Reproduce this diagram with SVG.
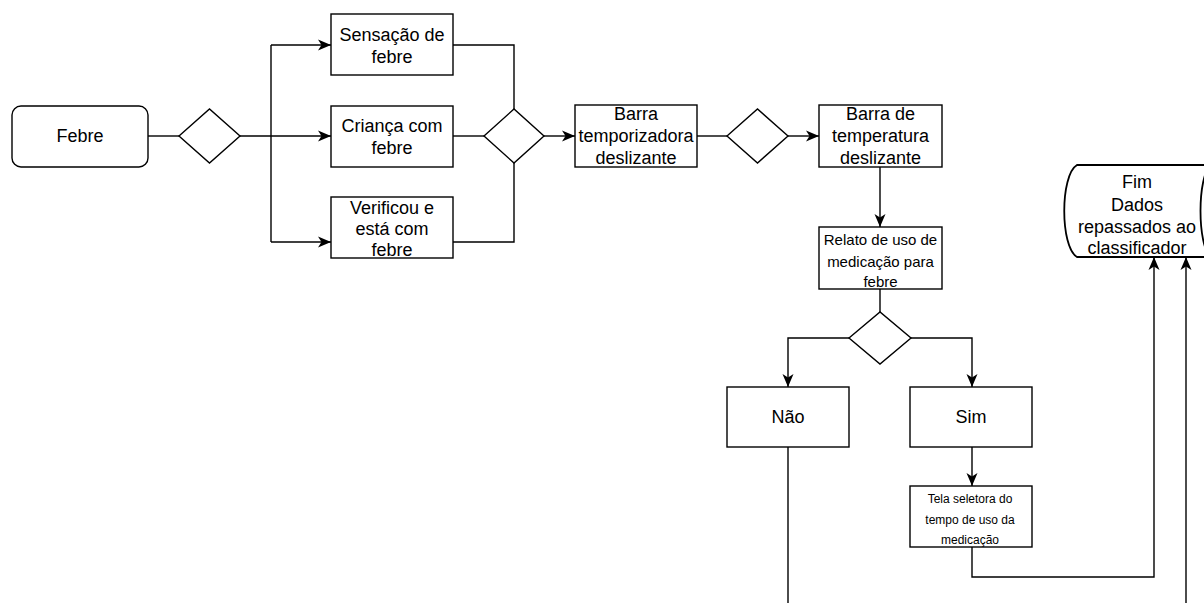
<svg xmlns="http://www.w3.org/2000/svg" width="1204" height="603" viewBox="0 0 1204 603">
  <defs>
    <marker id="arrow" markerUnits="userSpaceOnUse" markerWidth="14" markerHeight="14" viewBox="0 0 14 14" refX="13" refY="7" orient="auto">
      <path d="M0,1.5 L13,7 L0,12.5 L3.5,7 Z" fill="#000"/>
    </marker>
    <style>
      .box { fill: #fff; stroke: #000; stroke-width: 1.4; }
      .edge { fill: none; stroke: #000; stroke-width: 1.4; }
      .arr { marker-end: url(#arrow); }
      text { font-family: "Liberation Sans", Arial, Helvetica, sans-serif; fill: #000; text-anchor: middle; }
      .t18 { font-size: 18px; }
      .t15 { font-size: 15px; }
      .t12 { font-size: 12px; }
    </style>
  </defs>

  <rect width="1204" height="603" fill="#fff"/>

  <!-- connectors -->
  <g id="connectors">
    <path class="edge" d="M148,136 L179,136"/>
    <path class="edge arr" d="M240,136 L331,136"/>
    <path class="edge" d="M271,45 L271,242"/>
    <path class="edge arr" d="M271,45 L331,45"/>
    <path class="edge arr" d="M271,242 L331,242"/>
    <path class="edge" d="M453,45 L514,45 L514,109"/>
    <path class="edge" d="M453,136 L484,136"/>
    <path class="edge" d="M453,242 L514,242 L514,163"/>
    <path class="edge arr" d="M544,136 L575,136"/>
    <path class="edge" d="M697,136 L727,136"/>
    <path class="edge arr" d="M788,136 L819,136"/>
    <path class="edge arr" d="M880,167 L880,227"/>
    <path class="edge" d="M880,289 L880,312"/>
    <path class="edge arr" d="M849,338 L788,338 L788,387"/>
    <path class="edge arr" d="M911,338 L972,338 L972,387"/>
    <path class="edge" d="M788,447 L788,610"/>
    <path class="edge arr" d="M972,447 L972,486"/>
    <path class="edge arr" d="M972,547 L972,577 L1154,577 L1154,257"/>
    <path class="edge arr" d="M1186,610 L1186,257"/>
  </g>

  <!-- nodes -->
  <g id="febre">
    <rect class="box" x="12" y="106" width="136" height="61" rx="9"/>
    <text class="t18" x="80" y="142">Febre</text>
  </g>
  <g id="decisao-1">
    <polygon class="box" points="179,136 209.5,109 240,136 209.5,163"/>
  </g>
  <g id="sensacao">
    <rect class="box" x="331" y="14" width="122" height="61"/>
    <text class="t18" x="392" y="41">Sensação de</text>
    <text class="t18" x="392" y="63">febre</text>
  </g>
  <g id="crianca">
    <rect class="box" x="331" y="106" width="122" height="61"/>
    <text class="t18" x="392" y="132">Criança com</text>
    <text class="t18" x="392" y="154">febre</text>
  </g>
  <g id="verificou">
    <rect class="box" x="331" y="197" width="122" height="61"/>
    <text class="t18" x="392" y="214">Verificou e</text>
    <text class="t18" x="392" y="235">está com</text>
    <text class="t18" x="392" y="256">febre</text>
  </g>
  <g id="decisao-2">
    <polygon class="box" points="484,136 514,109 544,136 514,163"/>
  </g>
  <g id="barra-temporizadora">
    <rect class="box" x="575" y="105" width="122" height="62"/>
    <text class="t18" x="636" y="120">Barra</text>
    <text class="t18" x="636" y="142">temporizadora</text>
    <text class="t18" x="636" y="164">deslizante</text>
  </g>
  <g id="decisao-3">
    <polygon class="box" points="727,136 757.5,109 788,136 757.5,163"/>
  </g>
  <g id="barra-temperatura">
    <rect class="box" x="819" y="105" width="123" height="62"/>
    <text class="t18" x="880.5" y="120">Barra de</text>
    <text class="t18" x="880.5" y="142">temperatura</text>
    <text class="t18" x="880.5" y="164">deslizante</text>
  </g>
  <g id="relato">
    <rect class="box" x="819" y="227" width="123" height="62"/>
    <text class="t15" x="880.5" y="245">Relato de uso de</text>
    <text class="t15" x="880.5" y="267">medicação para</text>
    <text class="t15" x="880.5" y="287">febre</text>
  </g>
  <g id="decisao-4">
    <polygon class="box" points="849,338 880,312 911,338 880,364"/>
  </g>
  <g id="nao">
    <rect class="box" x="727" y="387" width="122" height="60"/>
    <text class="t18" x="788" y="423">Não</text>
  </g>
  <g id="sim">
    <rect class="box" x="910" y="387" width="122" height="60"/>
    <text class="t18" x="971" y="423">Sim</text>
  </g>
  <g id="tela-seletora">
    <rect class="box" x="910" y="486" width="122" height="61"/>
    <text class="t12" x="970" y="503">Tela seletora do</text>
    <text class="t12" x="970" y="524">tempo de uso da</text>
    <text class="t12" x="970" y="544">medicação</text>
  </g>
  <g id="fim">
    <path class="box" style="stroke-width:1.8" d="M1077,165 L1211,165 C1197,175 1197,247 1211,257 L1077,257 C1060,247 1060,175 1077,165 Z"/>
    <text class="t18" x="1137" y="188">Fim</text>
    <text class="t18" x="1137" y="211">Dados</text>
    <text class="t18" x="1137" y="233">repassados ao</text>
    <text class="t18" x="1137" y="254">classificador</text>
  </g>
</svg>
